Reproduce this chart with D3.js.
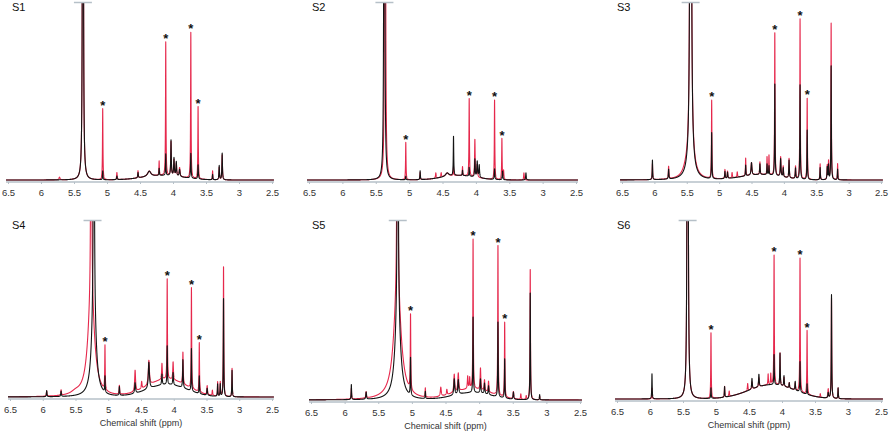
<!DOCTYPE html>
<html><head><meta charset="utf-8">
<script src="https://cdn.jsdelivr.net/npm/d3@7"></script>
<style>body{margin:0;background:#fff}svg{display:block}</style>
</head><body>
<svg id="c" width="889" height="432"></svg>
<script>
// ---------- DATA ----------
const panelNames = ["S1","S2","S3","S4","S5","S6"];
const tickValues = [6.5,6,5.5,5,4.5,4,3.5,3,2.5];
const tickLabels = ["6.5","6","5.5","5","4.5","4","3.5","3","2.5"];
const axisTitle = "Chemical shift (ppm)";
// peaks: [ppm, height (1 = panel top), half-width]; half-width >= 0.1 => broad gaussian hump
const s1Red = [[5.365,20,0.0025],[5.72,0.015,0.01],[5.065,0.40,0.004],[4.85,0.04,0.005],[4.53,0.04,0.005],[4.36,0.03,0.03],[4.21,0.08,0.004],[4.11,0.75,0.004],[4.03,0.19,0.005],[3.985,0.09,0.006],[3.95,0.07,0.006],[3.9,0.05,0.008],[3.73,0.82,0.004],[3.62,0.41,0.004],[3.40,0.05,0.004],[3.30,0.07,0.005],[3.255,0.14,0.005],[4.15,0.025,0.3]];
const s1Black = [[5.365,20,0.0025],[5.065,0.05,0.004],[4.85,0.02,0.005],[4.53,0.03,0.005],[4.36,0.03,0.03],[4.21,0.04,0.004],[4.11,0.12,0.004],[4.03,0.2,0.005],[3.985,0.1,0.006],[3.95,0.08,0.006],[3.9,0.04,0.008],[3.73,0.14,0.005],[3.62,0.08,0.005],[3.40,0.03,0.004],[3.30,0.08,0.005],[3.255,0.15,0.005],[4.15,0.025,0.3]];
const s2Red = [[5.36,20,0.0025],[5.05,0.21,0.004],[4.835,0.04,0.004],[4.6,0.03,0.005],[4.52,0.025,0.005],[4.43,0.02,0.03],[4.335,0.05,0.004],[4.2,0.05,0.004],[4.10,0.44,0.004],[4.015,0.21,0.005],[3.98,0.07,0.006],[3.72,0.45,0.004],[3.61,0.23,0.004],[3.585,0.05,0.005],[3.28,0.04,0.005],[4.25,0.025,0.25]];
const s2Black = [[5.372,20,0.0025],[5.05,0.02,0.004],[4.835,0.05,0.004],[4.43,0.02,0.03],[4.335,0.22,0.004],[4.2,0.03,0.004],[4.10,0.05,0.004],[4.015,0.1,0.005],[3.98,0.09,0.006],[3.95,0.07,0.006],[3.72,0.06,0.005],[3.6,0.05,0.005],[3.25,0.04,0.005],[4.25,0.025,0.25]];
const s3Red = [[5.44,20,0.004],[5.44,0.15,0.06],[5.52,0.02,0.05],[6.03,0.09,0.004],[5.78,0.07,0.005],[5.115,0.44,0.004],[4.91,0.05,0.005],[4.87,0.04,0.005],[4.8,0.03,0.005],[4.72,0.03,0.005],[4.59,0.1,0.004],[4.50,0.07,0.008],[4.37,0.07,0.005],[4.26,0.1,0.004],[4.23,0.11,0.004],[4.14,0.81,0.004],[4.05,0.11,0.006],[4.01,0.06,0.005],[3.92,0.11,0.005],[3.82,0.07,0.005],[3.75,0.9,0.004],[3.64,0.46,0.004],[3.44,0.09,0.004],[3.33,0.08,0.005],[3.31,0.1,0.004],[3.27,0.88,0.004],[3.17,0.09,0.004],[4.35,0.03,0.3]];
const s3Black = [[5.44,20,0.004],[5.44,0.13,0.055],[6.03,0.11,0.004],[5.78,0.055,0.005],[5.115,0.26,0.004],[4.91,0.04,0.005],[4.87,0.035,0.005],[4.59,0.06,0.004],[4.50,0.07,0.008],[4.37,0.06,0.005],[4.26,0.06,0.004],[4.23,0.05,0.004],[4.14,0.52,0.004],[4.05,0.1,0.006],[4.01,0.05,0.005],[3.92,0.1,0.005],[3.82,0.06,0.005],[3.75,0.53,0.004],[3.64,0.28,0.004],[3.44,0.07,0.004],[3.33,0.07,0.005],[3.31,0.08,0.004],[3.27,0.64,0.004],[3.17,0.06,0.004],[4.35,0.03,0.3]];
const s4Red = [[5.26,20,0.002],[5.26,0.55,0.06],[5.5,0.015,0.08],[5.94,0.03,0.005],[5.72,0.03,0.005],[5.05,0.25,0.004],[4.83,0.05,0.005],[4.59,0.12,0.008],[4.49,0.04,0.006],[4.38,0.14,0.01],[4.18,0.09,0.006],[4.10,0.57,0.004],[4.01,0.1,0.006],[3.86,0.18,0.005],[3.73,0.57,0.004],[3.61,0.28,0.004],[3.49,0.05,0.006],[3.41,0.03,0.005],[3.33,0.08,0.004],[3.29,0.08,0.004],[3.24,0.74,0.004],[3.11,0.16,0.004],[4.1,0.1,0.3]];
const s4Black = [[5.22,20,0.002],[5.22,0.5,0.04],[5.94,0.035,0.005],[5.72,0.03,0.005],[5.05,0.09,0.004],[4.83,0.05,0.005],[4.59,0.06,0.008],[4.38,0.15,0.01],[4.18,0.06,0.006],[4.10,0.22,0.004],[4.01,0.07,0.006],[3.86,0.16,0.005],[3.73,0.24,0.004],[3.61,0.1,0.004],[3.49,0.04,0.006],[3.33,0.07,0.004],[3.29,0.07,0.004],[3.24,0.56,0.004],[3.11,0.15,0.004],[4.1,0.07,0.3]];
const s5Red = [[5.215,20,0.002],[5.215,0.6,0.065],[5.9,0.06,0.004],[5.68,0.035,0.006],[5.02,0.42,0.004],[4.80,0.05,0.004],[4.57,0.05,0.008],[4.48,0.03,0.006],[4.37,0.1,0.008],[4.31,0.1,0.008],[4.17,0.07,0.006],[4.14,0.06,0.005],[4.09,0.83,0.004],[3.98,0.12,0.006],[3.92,0.06,0.006],[3.86,0.06,0.006],[3.72,0.84,0.004],[3.62,0.42,0.004],[3.49,0.04,0.006],[3.38,0.03,0.005],[3.30,0.02,0.005],[3.24,0.73,0.004],[3.10,0.02,0.004],[4.1,0.06,0.28]];
const s5Black = [[5.21,20,0.002],[5.21,0.5,0.045],[5.9,0.085,0.004],[5.68,0.04,0.006],[5.02,0.21,0.004],[4.80,0.04,0.004],[4.37,0.09,0.008],[4.31,0.08,0.008],[4.09,0.42,0.004],[3.98,0.08,0.006],[3.92,0.06,0.006],[3.86,0.05,0.006],[3.72,0.42,0.004],[3.62,0.22,0.004],[3.49,0.04,0.006],[3.24,0.6,0.004],[3.10,0.03,0.004],[4.1,0.04,0.28]];
const s6Red = [[5.43,20,0.0028],[5.97,0.06,0.004],[5.076,0.37,0.004],[4.87,0.06,0.004],[4.8,0.03,0.005],[4.52,0.04,0.005],[4.455,0.04,0.006],[4.35,0.05,0.006],[4.21,0.06,0.004],[4.17,0.06,0.004],[4.12,0.73,0.004],[4.03,0.18,0.004],[3.97,0.05,0.005],[3.89,0.03,0.005],[3.80,0.04,0.005],[3.727,0.75,0.004],[3.62,0.36,0.004],[3.42,0.02,0.005],[3.30,0.05,0.006],[3.25,0.56,0.004],[3.15,0.06,0.004],[4.15,0.08,0.35]];
const s6Black = [[5.43,20,0.0028],[5.97,0.14,0.004],[5.076,0.06,0.004],[4.87,0.06,0.004],[4.455,0.06,0.006],[4.35,0.07,0.006],[4.12,0.17,0.004],[4.03,0.18,0.004],[3.97,0.06,0.005],[3.89,0.03,0.005],[3.80,0.05,0.005],[3.727,0.17,0.004],[3.62,0.06,0.004],[3.30,0.03,0.006],[3.25,0.58,0.004],[3.15,0.06,0.004],[4.15,0.08,0.35]];
const mainPeaks = [5.365,5.37,5.44,5.24,5.21,5.43];
const starredPeaks = [[5.065,4.11,3.73,3.62],[5.05,4.10,3.72,3.61],[5.115,4.14,3.75,3.64],[5.05,4.10,3.73,3.61],[5.02,4.09,3.72,3.62],[5.076,4.12,3.727,3.62]];

// ---------- LAYOUT ----------
const redSeries = [s1Red,s2Red,s3Red,s4Red,s5Red,s6Red];
const blackSeries = [s1Black,s2Black,s3Black,s4Black,s5Black,s6Black];
const layout = [
  {x0:8,  x1:272, top:2,   axis:182, lx:12,  title:false},
  {x0:309,x1:576, top:2,   axis:182, lx:312, title:false},
  {x0:622,x1:881, top:2,   axis:182, lx:617, title:false},
  {x0:10, x1:272, top:220, axis:399, lx:12,  title:true},
  {x0:311,x1:580, top:220, axis:402, lx:312, title:true},
  {x0:617,x1:881, top:220, axis:401, lx:617, title:true}
];
const RED = "#e6284c", BLACK = "#141414", AXIS = "#b6c0c8";
const FONT = "Liberation Sans, Arial, sans-serif";
const svg = d3.select("#c");

function intensity(peaks, p){
  let s = 0;
  for (const [c,h,w] of peaks){
    const d = p - c;
    if (w >= 0.1) s += h*Math.exp(-d*d/(2*w*w));
    else s += h*w*w/(d*d + w*w);
  }
  return s;
}
const ppmGrid = d3.range(6.53, 2.47, -0.0008);

layout.forEach((L,i)=>{
  const g = svg.append("g");
  const x = d3.scaleLinear().domain([6.5,2.5]).range([L.x0,L.x1]);
  const y = d3.scaleLinear().domain([0,1]).range([L.axis-2, L.top]);
  const cid = "clip"+i;
  svg.append("clipPath").attr("id",cid).append("rect")
    .attr("x",x(6.55)).attr("y",L.top).attr("width",x(2.45)-x(6.55)).attr("height",L.axis-L.top+6);

  g.append("line").attr("x1",x(6.53)).attr("x2",x(2.47)).attr("y1",L.axis).attr("y2",L.axis)
    .attr("stroke",AXIS).attr("stroke-width",1.3);
  const ax = g.append("g").attr("transform",`translate(0,${L.axis})`)
    .call(d3.axisBottom(x).tickValues(tickValues).tickFormat((d,k)=>tickLabels[k]).tickSizeInner(2).tickSizeOuter(0).tickPadding(5.5));
  ax.select(".domain").remove();
  ax.selectAll(".tick line").attr("stroke",AXIS);
  ax.selectAll(".tick text").attr("fill","#333").style("font-family",FONT).style("font-size","9.5px");

  const line = d3.line().x(d=>x(d[0])).y(d=>y(d[1]));
  const redData = ppmGrid.map(p=>[p,intensity(redSeries[i],p)]);
  const blackData = ppmGrid.map(p=>[p,intensity(blackSeries[i],p)]);
  const cg = g.append("g").attr("clip-path",`url(#${cid})`);
  cg.append("path").datum(redData).attr("d",line).attr("fill","none").attr("stroke",RED).attr("stroke-width",1.1).attr("stroke-linejoin","round");
  cg.append("path").datum(blackData).attr("d",line).attr("fill","none").attr("stroke",BLACK).attr("stroke-width",1.1).attr("stroke-linejoin","round");

  const mx = x(mainPeaks[i]);
  g.append("line").attr("x1",mx-9).attr("x2",mx+9).attr("y1",L.top+0.5).attr("y2",L.top+0.5)
    .attr("stroke",AXIS).attr("stroke-width",1.5);

  starredPeaks[i].forEach(p=>{
    const top = d3.max(ppmGrid.filter(q=>Math.abs(q-p)<0.02), q=>intensity(redSeries[i],q));
    g.append("text").attr("x",x(p)).attr("y",y(top)-6+7.2).attr("text-anchor","middle")
      .style("font-family",FONT).style("font-weight","bold").style("font-size","13px")
      .attr("fill","#111").text("*");
  });

  g.append("text").attr("x",L.lx).attr("y",L.top+9)
    .style("font-family",FONT).style("font-size","11px").attr("fill","#111").text(panelNames[i]);

  if (L.title){
    g.append("text").attr("x",(x(6.5)+x(2.5))/2).attr("y",L.axis+27).attr("text-anchor","middle")
      .style("font-family",FONT).style("font-size","9px").attr("fill","#333").text(axisTitle);
  }
});
</script>
</body></html>
